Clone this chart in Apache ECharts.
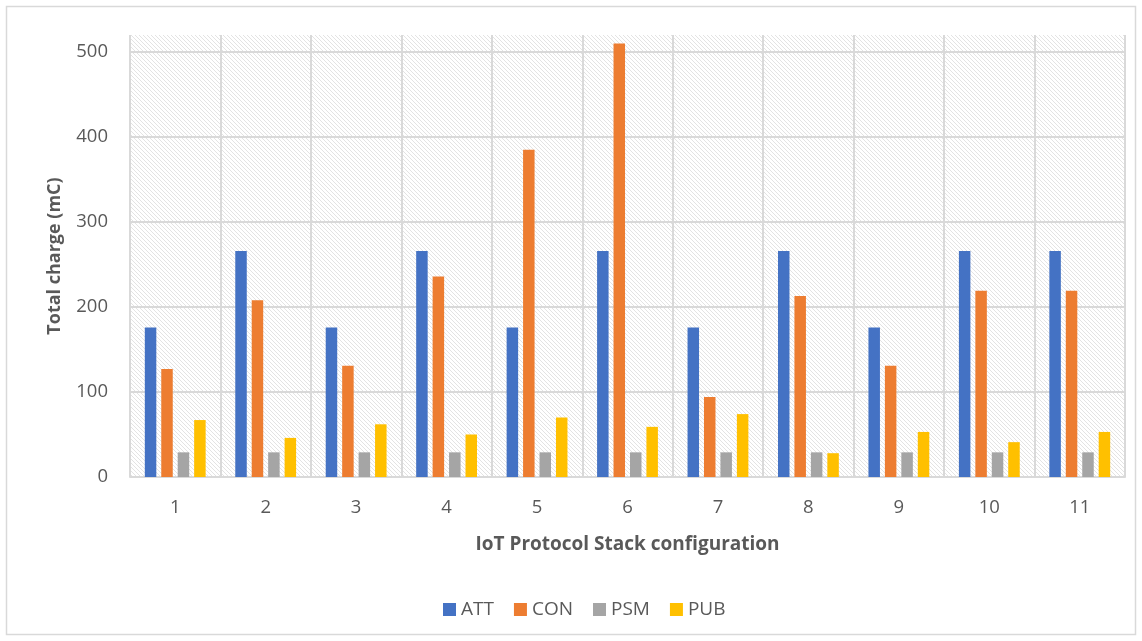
<!DOCTYPE html>
<html>
<head>
<meta charset="utf-8">
<script src="https://cdn.jsdelivr.net/npm/echarts@6/dist/echarts.min.js"></script>
<style>
  html, body { margin: 0; padding: 0; background: #ffffff; }
  #chart { width: 1142px; height: 641px; }
</style>
</head>
<body>
<div id="chart"></div>
<script>
// Protocol stack configurations on the category axis
const configurations = ['1', '2', '3', '4', '5', '6', '7', '8', '9', '10', '11'];

// Total charge per phase (mC)
const attValues = [176, 266, 176, 266, 176, 266, 176, 266, 176, 266, 266];
const conValues = [127, 208, 131, 236, 385, 510, 94, 213, 131, 219, 219];
const psmValues = [29, 29, 29, 29, 29, 29, 29, 29, 29, 29, 29];
const pubValues = [67, 46, 62, 50, 70, 59, 74, 28, 53, 41, 53];

const seriesNames = ['ATT', 'CON', 'PSM', 'PUB'];
const seriesColors = ['#4472C4', '#ED7D31', '#A5A5A5', '#FFC000'];

// Light diagonal hatch used as the plot background
function makeHatch() {
  const c = document.createElement('canvas');
  c.width = 4; c.height = 4;
  const ctx = c.getContext('2d');
  ctx.fillStyle = '#ffffff';
  ctx.fillRect(0, 0, 4, 4);
  ctx.fillStyle = '#e3e3e3';
  for (let i = 0; i < 4; i++) ctx.fillRect(i, i, 1, 1);
  return c;
}

const textColor = '#595959';
const gridColor = '#d9d9d9';
const fontFamily = '"Open Sans", "Noto Sans", sans-serif';

const chart = echarts.init(document.getElementById('chart'), null, { renderer: 'canvas' });

const valueSets = [attValues, conValues, psmValues, pubValues];

chart.setOption({
  animation: false,
  backgroundColor: '#ffffff',
  textStyle: { fontFamily: fontFamily },
  graphic: [{
    type: 'rect',
    shape: { x: 6.5, y: 6.5, width: 1129, height: 628 },
    style: { fill: 'none', stroke: '#d9d9d9', lineWidth: 1.5 },
    silent: true,
    z: -10
  }],
  grid: {
    left: 130, right: 17, top: 35, bottom: 164,
    show: true,
    borderWidth: 0,
    backgroundColor: { image: makeHatch(), repeat: 'repeat' }
  },
  legend: {
    data: seriesNames,
    bottom: 17,
    left: 438,
    icon: 'rect',
    itemWidth: 13,
    itemHeight: 13,
    itemGap: 20,
    textStyle: { color: textColor, fontSize: 19, fontFamily: fontFamily }
  },
  xAxis: {
    type: 'category',
    data: configurations,
    name: 'IoT Protocol Stack configuration',
    nameLocation: 'middle',
    nameGap: 58,
    nameTextStyle: { color: textColor, fontSize: 19, fontWeight: 'bold', fontFamily: fontFamily },
    axisLine: { show: true, lineStyle: { color: gridColor, width: 2 } },
    axisTick: { show: false },
    axisLabel: { color: textColor, fontSize: 18.5, margin: 21, fontFamily: fontFamily },
    splitLine: { show: true, lineStyle: { color: gridColor, width: 2 } }
  },
  yAxis: {
    type: 'value',
    min: 0,
    max: 520,
    interval: 100,
    name: 'Total charge (mC)',
    nameLocation: 'middle',
    nameGap: 66,
    nameTextStyle: { color: textColor, fontSize: 18, fontWeight: 'bold', fontFamily: fontFamily },
    axisLine: { show: false },
    axisTick: { show: false },
    axisLabel: { color: textColor, fontSize: 18.5, margin: 22, showMaxLabel: false, fontFamily: fontFamily },
    splitLine: { show: true, showMaxLine: false, lineStyle: { color: gridColor, width: 2 } }
  },
  series: seriesNames.map((name, i) => ({
    name: name,
    type: 'bar',
    data: valueSets[i],
    barWidth: 11.5,
    barGap: '43%',
    itemStyle: { color: seriesColors[i] }
  }))
});
</script>
</body>
</html>
